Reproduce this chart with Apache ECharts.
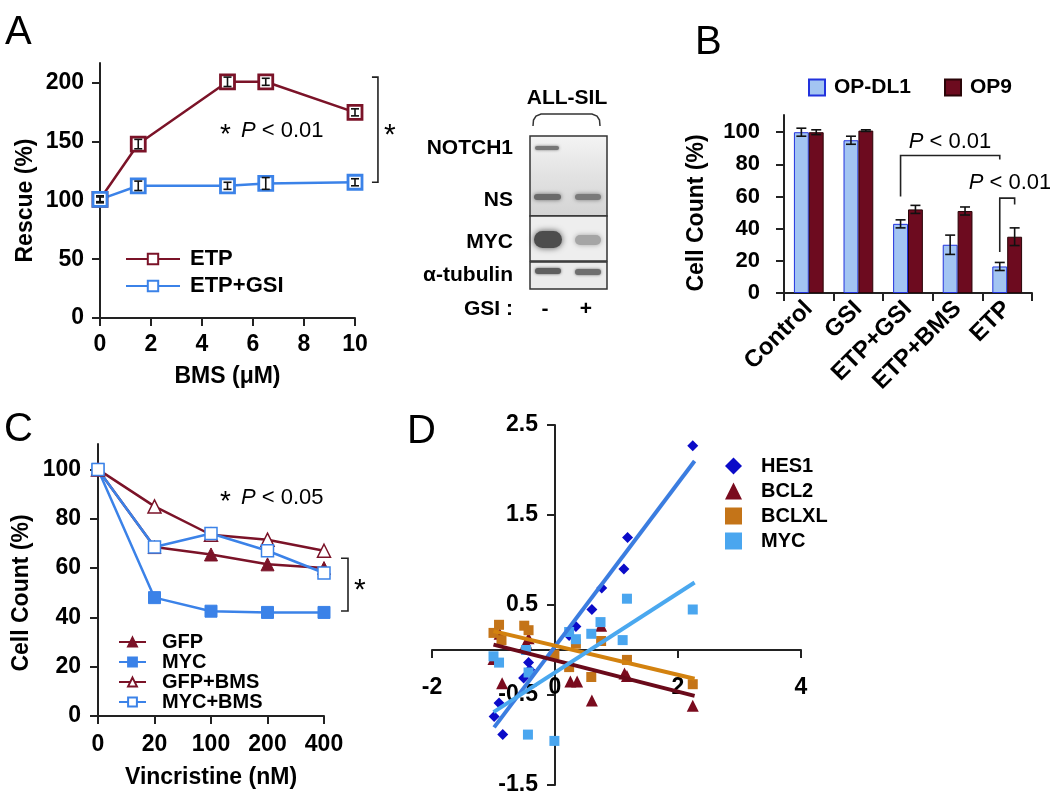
<!DOCTYPE html>
<html><head><meta charset="utf-8">
<script src="https://cdn.jsdelivr.net/npm/echarts@6/dist/echarts.min.js"></script>
<style>html,body{margin:0;padding:0;background:#fff}#c{width:1050px;height:803px}</style>
</head><body><div id="c"></div>
<script>
// ---------- Panel A ----------
const aDose = [0, 1.5, 5, 6.5, 10];
const aETP = [101, 148, 201, 201, 175];
const aETPerr = [3, 4, 4, 3, 3];
const aGSI = [101, 112.5, 112.5, 114.5, 115.5];
const aGSIerr = [2, 4, 3, 5, 3];
const aYTicks = [0, 50, 100, 150, 200];
// ---------- Panel B ----------
const bCats = ['Control', 'GSI', 'ETP+GSI', 'ETP+BMS', 'ETP'];
const bDL1 = [100, 95, 43, 30, 16.5];
const bDL1err = [2.5, 2.5, 2.5, 6, 2.5];
const bOP9 = [100, 101, 52, 51, 35];
const bOP9err = [1.5, 0.5, 2.5, 2.5, 5.5];
const bYTicks = [0, 20, 40, 60, 80, 100];
// ---------- Panel C ----------
const cCats = ['0', '20', '100', '200', '400'];
const cGFP = [100, 68.5, 65.5, 61.5, 60];
const cMYC = [100, 48, 42.5, 42, 42];
const cGFPBMS = [100, 85, 73.5, 71.5, 67];
const cMYCBMS = [100, 68.5, 74, 67, 58];
const cYTicks = [0, 20, 40, 60, 80, 100];
// ---------- Panel D ----------
const dHES1 = [[-0.99,-0.74],[-0.91,-0.59],[-0.85,-0.94],[-0.51,-0.31],[-0.43,-0.14],[-0.41,-0.22],[0.23,0.16],[0.34,0.26],[0.60,0.45],[0.76,0.69],[1.12,0.90],[1.18,1.25],[2.24,2.27]];
const dBCL2 = [[-1.0,-0.10],[-0.90,0.18],[-0.86,-0.37],[-0.47,0.08],[-0.43,0.13],[0.25,-0.35],[0.36,-0.35],[0.60,-0.56],[0.75,0.27],[1.13,-0.26],[1.17,-0.29],[2.24,-0.62]];
const dBCLXL = [[-1.0,0.19],[-0.91,0.28],[-0.87,0.11],[-0.50,0.27],[-0.43,0.22],[-0.01,-0.05],[0.23,-0.19],[0.34,0.07],[0.59,-0.30],[0.75,0.10],[1.17,-0.11],[2.24,-0.38]];
const dMYC = [[-1.0,-0.07],[-0.91,-0.14],[-0.47,0.0],[-0.44,-0.94],[-0.43,-0.25],[-0.01,-1.01],[0.23,0.20],[0.34,0.12],[0.59,0.18],[0.74,0.31],[1.10,0.11],[1.17,0.57],[2.24,0.45]];
const dFitHES1 = [[-0.99,-0.86],[2.27,2.10]];
const dFitBCL2 = [[-1.0,0.06],[2.27,-0.51]];
const dFitBCLXL = [[-1.0,0.21],[2.27,-0.32]];
const dFitMYC = [[-1.0,-0.69],[2.27,0.75]];
const dXTicks = [-2, 0, 2, 4];
const dYTicks = [-1.5, -0.5, 0.5, 1.5, 2.5];

const FF = "'Liberation Sans', Arial, Helvetica, sans-serif";
const AX = '#222';
const RED = '#7b1328', BLUE = '#3b82e8';

// grid D geometry and axis ranges (axes cross at zero)
const gD = {left: 432, top: 425, width: 369, height: 360};
const dX = [-2, 4], dY = [-1.5, 2.5];
const dXOff = -gD.height * (0 - dY[0]) / (dY[1] - dY[0]);
const dYOff = -gD.width * (0 - dX[0]) / (dX[1] - dX[0]);

function axis(extra) {
  const base = {
    axisLine: {show: true, onZero: false, lineStyle: {color: AX, width: 2}},
    axisTick: {show: true, length: 8, lineStyle: {color: AX, width: 2}},
    splitLine: {show: false},
    axisLabel: {color: '#000', fontWeight: 'bold', fontSize: 23, fontFamily: FF},
    nameTextStyle: {color: '#000', fontWeight: 'bold', fontSize: 23, fontFamily: FF}
  };
  for (const k in extra) {
    if (typeof extra[k] === 'object' && !Array.isArray(extra[k]) && base[k]) base[k] = Object.assign({}, base[k], extra[k]);
    else base[k] = extra[k];
  }
  return base;
}

function errBar(name, ai, data, cap, off) {
  return {
    type: 'custom', name: name, xAxisIndex: ai, yAxisIndex: ai, z: 5, silent: true,
    encode: {x: 0, y: [1, 2]},
    renderItem: function (params, api) {
      const x = api.value(0), lo = api.value(1), hi = api.value(2);
      const a = api.coord([x, hi]), b = api.coord([x, lo]);
      const dx = off ? off * api.size([1, 0])[0] : 0;
      const X = a[0] + dx;
      const st = {stroke: '#111', lineWidth: 1.6};
      return {type: 'group', children: [
        {type: 'line', shape: {x1: X, y1: a[1], x2: X, y2: b[1]}, style: st},
        {type: 'line', shape: {x1: X - cap, y1: a[1], x2: X + cap, y2: a[1]}, style: st},
        {type: 'line', shape: {x1: X - cap, y1: b[1], x2: X + cap, y2: b[1]}, style: st}
      ]};
    },
    data: data
  };
}

const chart = echarts.init(document.getElementById('c'));

const legText = (fs, pad) => ({color: '#000', fontWeight: 'bold', fontSize: fs, fontFamily: FF, padding: [0, 0, 0, pad]});
const nameStyle = (padR) => ({color: '#000', fontWeight: 'bold', fontSize: 23, fontFamily: FF, padding: [0, padR, 0, 0]});

const option = {
  animation: false,
  backgroundColor: '#fff',
  grid: [
    {left: 100, top: 63, width: 255, height: 255, outerBoundsMode: 'none'},
    {left: 784, top: 115, width: 248, height: 178, outerBoundsMode: 'none'},
    {left: 98, top: 444, width: 226, height: 272, outerBoundsMode: 'none'},
    Object.assign({outerBoundsMode: 'none'}, gD)
  ],
  xAxis: [
    axis({gridIndex: 0, type: 'value', min: 0, max: 10, interval: 2,
      name: 'BMS (\u03bcM)', nameLocation: 'middle', nameGap: 47,
      axisLabel: {margin: 15}}),
    axis({gridIndex: 1, type: 'category', data: bCats, boundaryGap: true,
      axisTick: {alignWithLabel: false}, axisLabel: {rotate: 45, margin: 12, fontSize: 24, interval: 0}}),
    axis({gridIndex: 2, type: 'category', data: cCats, boundaryGap: false,
      name: 'Vincristine (nM)', nameLocation: 'middle', nameGap: 50, axisLabel: {margin: 17}}),
    axis({gridIndex: 3, type: 'value', min: dX[0], max: dX[1], position: 'bottom', offset: dXOff,
      axisTick: {customValues: dXTicks},
      axisLabel: {customValues: dXTicks, margin: 26}})
  ],
  yAxis: [
    axis({gridIndex: 0, type: 'value', min: 0, max: 217,
      axisTick: {customValues: aYTicks}, axisLabel: {customValues: aYTicks, margin: 16},
      name: 'Rescue (%)', nameLocation: 'middle', nameRotate: 90, nameGap: 63, nameTextStyle: nameStyle(20)}),
    axis({gridIndex: 1, type: 'value', min: 0, max: 110.7,
      axisTick: {customValues: bYTicks}, axisLabel: {customValues: bYTicks, margin: 24, fontSize: 22},
      name: 'Cell Count (%)', nameLocation: 'middle', nameRotate: 90, nameGap: 76, nameTextStyle: nameStyle(18)}),
    axis({gridIndex: 2, type: 'value', min: 0, max: 110.3,
      axisTick: {customValues: cYTicks}, axisLabel: {customValues: cYTicks, margin: 17},
      name: 'Cell Count (%)', nameLocation: 'middle', nameRotate: 90, nameGap: 65, nameTextStyle: nameStyle(26)}),
    axis({gridIndex: 3, type: 'value', min: dY[0], max: dY[1], position: 'left', offset: dYOff,
      axisTick: {customValues: dYTicks},
      axisLabel: {customValues: dYTicks, margin: 17, formatter: v => String(v)}})
  ],
  legend: [
    {data: ['ETP', 'ETP+GSI'], left: 120, top: 243, orient: 'vertical', itemWidth: 54, itemHeight: 13, itemGap: 5,
      textStyle: legText(22, 5), selectedMode: false},
    {data: [{name: 'OP-DL1', icon: 'rect'}, {name: 'OP9', icon: 'rect'}], left: 803, top: 72, orient: 'horizontal', itemWidth: 16, itemHeight: 16, itemGap: 33,
      textStyle: legText(21, 4), selectedMode: false},
    {data: ['GFP', 'MYC', 'GFP+BMS', 'MYC+BMS'], left: 113, top: 627, orient: 'vertical', itemWidth: 27, itemHeight: 11, itemGap: 0,
      textStyle: Object.assign(legText(20, 11), {lineHeight: 19}), selectedMode: false},
    {data: ['HES1', 'BCL2', 'BCLXL', 'MYC '], left: 720, top: 451, orient: 'vertical', itemWidth: 17, itemHeight: 17, itemGap: 5,
      textStyle: legText(20, 14), selectedMode: false, formatter: n => n.trim()}
  ],
  series: [
    // Panel A
    {type: 'line', name: 'ETP', xAxisIndex: 0, yAxisIndex: 0, data: aDose.map((d, i) => [d, aETP[i]]),
      symbol: 'rect', symbolSize: 14, lineStyle: {color: RED, width: 2.5},
      itemStyle: {color: '#fff', borderColor: RED, borderWidth: 2.8}},
    {type: 'line', name: 'ETP+GSI', xAxisIndex: 0, yAxisIndex: 0, data: aDose.map((d, i) => [d, aGSI[i]]),
      symbol: 'rect', symbolSize: 14, lineStyle: {color: BLUE, width: 2.5},
      itemStyle: {color: '#fff', borderColor: BLUE, borderWidth: 2.8}},
    errBar('eA1', 0, aDose.map((d, i) => [d, aETP[i] - aETPerr[i], aETP[i] + aETPerr[i]]), 4, 0),
    errBar('eA2', 0, aDose.map((d, i) => [d, aGSI[i] - aGSIerr[i], aGSI[i] + aGSIerr[i]]), 4, 0),
    // Panel B
    {type: 'bar', name: 'OP-DL1', xAxisIndex: 1, yAxisIndex: 1, data: bDL1, barGap: '0%', barCategoryGap: '40%',
      itemStyle: {color: '#a3c5f2', borderColor: '#2233dd', borderWidth: 1}},
    {type: 'bar', name: 'OP9', xAxisIndex: 1, yAxisIndex: 1, data: bOP9, barGap: '0%', barCategoryGap: '40%',
      itemStyle: {color: '#6d0b1f', borderColor: '#2a0508', borderWidth: 1}},
    errBar('eB1', 1, bDL1.map((v, i) => [i, v - bDL1err[i], v + bDL1err[i]]), 5, -0.15),
    errBar('eB2', 1, bOP9.map((v, i) => [i, v - bOP9err[i], v + bOP9err[i]]), 5, 0.15),
    // Panel C
    {type: 'line', name: 'GFP', xAxisIndex: 2, yAxisIndex: 2, data: cGFP, symbol: 'triangle', symbolSize: 13,
      lineStyle: {color: RED, width: 2.5}, itemStyle: {color: RED, borderColor: RED, borderWidth: 1}},
    {type: 'line', name: 'MYC', xAxisIndex: 2, yAxisIndex: 2, data: cMYC, symbol: 'rect', symbolSize: 12,
      lineStyle: {color: BLUE, width: 2.5}, itemStyle: {color: BLUE, borderColor: BLUE, borderWidth: 1}},
    {type: 'line', name: 'GFP+BMS', xAxisIndex: 2, yAxisIndex: 2, data: cGFPBMS, symbol: 'triangle', symbolSize: 13,
      lineStyle: {color: RED, width: 2.5}, itemStyle: {color: '#fff', borderColor: RED, borderWidth: 1.5}},
    {type: 'line', name: 'MYC+BMS', xAxisIndex: 2, yAxisIndex: 2, data: cMYCBMS, symbol: 'rect', symbolSize: 12,
      lineStyle: {color: BLUE, width: 2.5}, itemStyle: {color: '#fff', borderColor: BLUE, borderWidth: 1.5}},
    // Panel D
    {type: 'scatter', name: 'HES1', xAxisIndex: 3, yAxisIndex: 3, data: dHES1, symbol: 'diamond', symbolSize: 11,
      itemStyle: {color: '#0b0bc8', opacity: 1}},
    {type: 'scatter', name: 'BCL2', xAxisIndex: 3, yAxisIndex: 3, data: dBCL2, symbol: 'triangle', symbolSize: 12,
      itemStyle: {color: '#7a0b1e', opacity: 1}},
    {type: 'scatter', name: 'BCLXL', xAxisIndex: 3, yAxisIndex: 3, data: dBCLXL, symbol: 'rect', symbolSize: 10,
      itemStyle: {color: '#c47418', opacity: 1}},
    {type: 'scatter', name: 'MYC ', xAxisIndex: 3, yAxisIndex: 3, data: dMYC, symbol: 'rect', symbolSize: 10,
      itemStyle: {color: '#4aa6ef', opacity: 1}},
    {type: 'line', name: 'fitHES1', xAxisIndex: 3, yAxisIndex: 3, data: dFitHES1, showSymbol: false, silent: true,
      lineStyle: {color: '#3b7de0', width: 4}},
    {type: 'line', name: 'fitBCL2', xAxisIndex: 3, yAxisIndex: 3, data: dFitBCL2, showSymbol: false, silent: true,
      lineStyle: {color: '#6a0a1a', width: 4}},
    {type: 'line', name: 'fitBCLXL', xAxisIndex: 3, yAxisIndex: 3, data: dFitBCLXL, showSymbol: false, silent: true,
      lineStyle: {color: '#d3820f', width: 4}},
    {type: 'line', name: 'fitMYC', xAxisIndex: 3, yAxisIndex: 3, data: dFitMYC, showSymbol: false, silent: true,
      lineStyle: {color: '#4aa8ef', width: 4}}
  ]
};
chart.setOption(option);

// ---------- annotations ----------
const G = [];
const S = {stroke: '#222', lineWidth: 1.6, fill: null};
function txt(x, y, text, o) {
  G.push({type: 'text', silent: true, z: 20, style: Object.assign({x: x, y: y, text: text, fill: '#000',
    fontFamily: FF, fontSize: 22, textVerticalAlign: 'middle'}, o || {})});
}
function poly(pts, st) {
  G.push({type: 'polyline', silent: true, z: 20, shape: {points: pts}, style: Object.assign({}, S, st || {})});
}
function pval(x, y, label, align) {
  G.push({type: 'text', silent: true, z: 20, style: {x: x, y: y, text: '{i|P} < ' + label, fill: '#000',
    fontFamily: FF, fontSize: 22, textAlign: align || 'left', textVerticalAlign: 'middle',
    rich: {i: {fontStyle: 'italic', fontSize: 22, fontFamily: FF}}}});
}
// Panel letters
txt(5, 33, 'A', {fontSize: 40});
txt(695, 43, 'B', {fontSize: 40});
txt(4, 430, 'C', {fontSize: 40});
txt(407, 432, 'D', {fontSize: 40});

// Panel A annotations
txt(220, 135, '*', {fontSize: 28});
pval(241, 131, '0.01');
{
  const t = chart.convertToPixel({xAxisIndex: 0, yAxisIndex: 0}, [10.9, 205]);
  const b = chart.convertToPixel({xAxisIndex: 0, yAxisIndex: 0}, [10.9, 115.5]);
  poly([[t[0] - 6, t[1]], [t[0], t[1]], [b[0], b[1]], [b[0] - 6, b[1]]]);
  txt(t[0] + 6, (t[1] + b[1]) / 2 + 6, '*', {fontSize: 30});
}

// Panel B annotations
{
  const c = (i, v) => chart.convertToPixel({xAxisIndex: 1, yAxisIndex: 1}, [i, v]);
  const band = c(1, 0)[0] - c(0, 0)[0];
  const o = band * 0.15;
  const l1 = c(2, 60), t1 = c(2, 85.5), r1 = c(4, 85.5), rb1 = c(4, 83);
  poly([[l1[0] - o, l1[1]], [t1[0] - o, t1[1]], [r1[0] - o, r1[1]], [rb1[0] - o, rb1[1]]]);
  pval(950, 142, '0.01', 'center');
  const l2 = c(4, 25.5), t2 = c(4, 59), rb2 = c(4, 55);
  poly([[l2[0] - o, l2[1]], [t2[0] - o, t2[1]], [t2[0] + o, t2[1]], [rb2[0] + o, rb2[1]]]);
  pval(1010, 183, '0.01', 'center');
}

// Panel C annotations
txt(220, 502, '*', {fontSize: 28});
pval(241, 498, '0.05');
{
  const t = chart.convertToPixel({xAxisIndex: 2, yAxisIndex: 2}, [4, 64]);
  const b = chart.convertToPixel({xAxisIndex: 2, yAxisIndex: 2}, [4, 42.6]);
  const X = t[0] + 24;
  poly([[X - 7, t[1]], [X, t[1]], [X, b[1]], [X - 7, b[1]]]);
  txt(X + 6, (t[1] + b[1]) / 2 + 6, '*', {fontSize: 30});
}

// Western blot (illustration)
txt(567, 98, 'ALL-SIL', {fontWeight: 'bold', fontSize: 21, textAlign: 'center'});
poly([[533, 126], [533.5, 120], [536, 116], [541, 114], [592, 114], [597, 116], [599.5, 120], [600, 126]], {stroke: '#333', lineWidth: 1.5});
G.push({type: 'rect', silent: true, shape: {x: 530, y: 136, width: 77, height: 80},
  style: {fill: new echarts.graphic.LinearGradient(0, 0, 0, 1, [{offset: 0, color: '#f4f4f4'}, {offset: 0.5, color: '#e2e2e2'}, {offset: 1, color: '#d4d4d4'}]), stroke: '#333', lineWidth: 1.5}});
G.push({type: 'rect', silent: true, shape: {x: 530, y: 216, width: 77, height: 45},
  style: {fill: '#eeeeee', stroke: '#333', lineWidth: 1.5}});
G.push({type: 'rect', silent: true, shape: {x: 530, y: 262, width: 77, height: 27},
  style: {fill: '#ebebeb', stroke: '#333', lineWidth: 1.5}});
function blotBand(x, y, w, h, c, blur) {
  G.push({type: 'rect', silent: true, z: 3, shape: {x: x, y: y, width: w, height: h, r: h / 2},
    style: {fill: c, shadowBlur: blur, shadowColor: c}});
}
blotBand(535, 146, 24, 4, '#777', 3);
blotBand(534, 194, 27, 6, '#6a6a6a', 4);
blotBand(575, 194, 26, 6, '#7a7a7a', 4);
blotBand(534, 231, 28, 17, '#4d4d4d', 6);
blotBand(575, 235, 26, 10, '#a5a5a5', 5);
blotBand(535, 268, 26, 6, '#5f5f5f', 3);
blotBand(575, 269, 26, 6, '#6f6f6f', 3);
txt(513, 148, 'NOTCH1', {fontWeight: 'bold', fontSize: 21, textAlign: 'right'});
txt(513, 200, 'NS', {fontWeight: 'bold', fontSize: 21, textAlign: 'right'});
txt(513, 242, 'MYC', {fontWeight: 'bold', fontSize: 21, textAlign: 'right'});
txt(513, 275, '\u03b1-tubulin', {fontWeight: 'bold', fontSize: 21, textAlign: 'right'});
txt(513, 309, 'GSI :', {fontWeight: 'bold', fontSize: 21, textAlign: 'right'});
txt(545, 309, '-', {fontWeight: 'bold', fontSize: 21, textAlign: 'center'});
txt(586, 309, '+', {fontWeight: 'bold', fontSize: 21, textAlign: 'center'});

chart.setOption({graphic: G});
</script>
</body></html>
